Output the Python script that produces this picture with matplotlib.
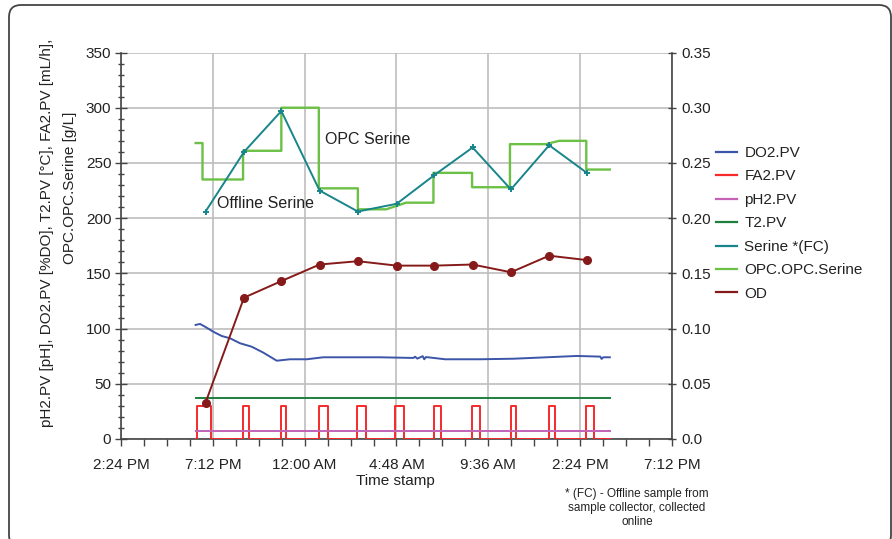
import datetime as dt
import numpy as np
import pandas as pd
import matplotlib
matplotlib.use("Agg")
import matplotlib.pyplot as plt
import matplotlib.dates as mdates
import matplotlib.ticker as mticker
from matplotlib.patches import FancyBboxPatch
from matplotlib.transforms import IdentityTransform

plt.rcParams['font.family'] = ['Liberation Sans', 'DejaVu Sans']

W, H = 892, 539
RUN_DAY = pd.Timestamp("2015-03-10")

# ---- data (time in hours after midnight of the first run day) ----
x_start_h, x_end_h = 14.4, 43.2

# offline samples from the sample collector
sample_h = [18.82, 20.83, 22.78, 24.78, 26.78, 28.81, 30.78, 32.78, 34.78, 36.78, 38.75]
serine_fc = [206, 260, 297, 225, 206, 213, 239, 264, 226, 266, 241]
od = [0.033, 0.128, 0.143, 0.158, 0.161, 0.157, 0.157, 0.158, 0.151, 0.166, 0.162]

# OPC online serine estimate
opc_h = [18.30, 18.66, 18.66, 20.78, 20.78, 22.78, 22.78, 24.74, 24.74, 26.78, 26.78,
         28.26, 29.30, 30.73, 30.73, 32.75, 32.75, 34.73, 34.73, 36.60, 37.30, 38.72,
         38.72, 39.95]
opc_serine = [268, 268, 235, 235, 261, 261, 300, 300, 227, 227, 208,
              208, 214, 214, 241, 241, 228, 228, 267, 267, 270, 270,
              244, 244]

# dissolved oxygen trace
do2_h = [18.30, 18.53, 18.79, 19.22, 19.66, 20.10, 20.62, 21.23, 21.84, 22.54, 23.23,
         24.11, 24.97, 26.20, 27.94, 29.68, 29.77, 29.89, 30.17, 30.25, 30.34, 31.34,
         33.16, 34.91, 36.65, 38.22, 39.45, 39.52, 39.61, 39.95]
do2 = [103.3, 104.2, 101.7, 97.2, 93.3, 91.2, 86.7, 83.6, 78.2, 70.9, 72.2,
       72.2, 74.0, 74.0, 74.0, 73.4, 74.5, 72.8, 75.0, 72.2, 74.2, 72.2,
       72.2, 72.7, 74.0, 75.2, 74.6, 72.5, 74.0, 74.0]

# feed pump on/off events
feed_on_h = [18.38, 20.78, 22.76, 24.76, 26.75, 28.74, 30.75, 32.75, 34.76, 36.75, 38.73]
feed_off_h = [19.10, 21.10, 23.02, 25.20, 27.22, 29.18, 31.14, 33.18, 35.06, 37.10, 39.13]
feed_rate = 30.0

# temperature and pH (steady)
online_h = [18.30, 39.95]
t2 = [37.0, 37.0]
ph2 = [6.8, 6.8]

x_tick_step_h = 4.8
x_minor_step_h = 1.2
left_ticks = [0, 50, 100, 150, 200, 250, 300, 350]
right_ticks = [0.0, 0.05, 0.10, 0.15, 0.20, 0.25, 0.30, 0.35]


def to_dates(hours):
    return mdates.date2num([RUN_DAY + pd.Timedelta(hours=float(h)) for h in hours])


def clock_label(v, pos=None):
    d = mdates.num2date(v) + dt.timedelta(seconds=30)
    return d.strftime('%-I:%M %p')


# feed rate as a step series built from the on/off events
fa2_h = [online_h[0]]
fa2 = [0.0]
for on, off in zip(feed_on_h, feed_off_h):
    fa2_h += [on, on, off, off]
    fa2 += [0.0, feed_rate, feed_rate, 0.0]
fa2_h.append(online_h[-1])
fa2.append(0.0)

# ---- figure ----
fig = plt.figure(figsize=(W / 100, H / 100), dpi=100)
fig.patch.set_facecolor('white')


def fx(px):
    return px / W


def fy(py):
    return 1 - py / H


left, right, top, bottom = 121, 672, 52.5, 439
ax = fig.add_axes([fx(left), fy(bottom), fx(right) - fx(left), fy(top) - fy(bottom)])
ax2 = ax.twinx()

lw = 1.4
c_do2 = '#3b55a8'
c_fa2 = '#f52a2a'
c_ph2 = '#c463b5'
c_t2 = '#1c7f3c'
c_ser = '#17858a'
c_opc = '#6cc046'
c_od = '#861a1a'

l_do2, = ax.plot(to_dates(do2_h), do2, color=c_do2, lw=lw, label='DO2.PV', zorder=3)
l_fa2, = ax.plot(to_dates(fa2_h), fa2, color=c_fa2, lw=lw, label='FA2.PV', zorder=3)
l_ph2, = ax.plot(to_dates(online_h), ph2, color=c_ph2, lw=lw, label='pH2.PV', zorder=3)
l_t2, = ax.plot(to_dates(online_h), t2, color=c_t2, lw=lw, label='T2.PV', zorder=3)
l_opc, = ax.plot(to_dates(opc_h), opc_serine, color=c_opc, lw=lw + 0.3, label='OPC.OPC.Serine', zorder=3)
l_ser, = ax.plot(to_dates(sample_h), serine_fc, color=c_ser, lw=lw, marker='+', ms=5,
                 mew=1.4, label='Serine *(FC)', zorder=4)
l_od, = ax2.plot(to_dates(sample_h), od, color=c_od, lw=lw, marker='o', ms=5.5,
                 label='OD', zorder=4)

# axes limits and ticks
ax.set_xlim(to_dates([x_start_h, x_end_h]))
ax.set_ylim(left_ticks[0], left_ticks[-1])
ax2.set_ylim(right_ticks[0], right_ticks[-1])

major_h = np.arange(x_start_h, x_end_h + 0.01, x_tick_step_h)
minor_h = np.arange(x_start_h, x_end_h + 0.01, x_minor_step_h)
ax.xaxis.set_major_locator(mticker.FixedLocator(to_dates(major_h)))
ax.xaxis.set_minor_locator(mticker.FixedLocator(to_dates(minor_h)))
ax.xaxis.set_major_formatter(mticker.FuncFormatter(clock_label))

ax.yaxis.set_major_locator(mticker.FixedLocator(left_ticks))
ax.yaxis.set_minor_locator(mticker.MultipleLocator(10))
ax2.yaxis.set_major_locator(mticker.FixedLocator(right_ticks))
ax2.yaxis.set_major_formatter(mticker.FuncFormatter(
    lambda v, p: '0.0' if abs(v) < 1e-9 else f'{v:.2f}'))

ax.grid(True, which='major', color='#bdbdbd', lw=1.2, zorder=0)
ax.set_axisbelow(True)

spine_c = '#444444'
for a in (ax, ax2):
    a.spines['top'].set_visible(False)
    for s in a.spines.values():
        s.set_color(spine_c)
        s.set_linewidth(1.2)
ax.spines['right'].set_visible(False)
ax2.spines['left'].set_visible(False)
ax2.spines['bottom'].set_visible(False)

fs = 11
ax.tick_params(axis='y', which='major', direction='inout', length=8, width=1,
               color=spine_c, labelsize=fs, pad=3, labelcolor='#222')
ax.tick_params(axis='y', which='minor', direction='inout', length=5, width=1, color=spine_c)
ax.tick_params(axis='x', which='both', direction='out', length=5, width=1,
               color=spine_c, labelsize=fs, pad=9, labelcolor='#222')
ax2.tick_params(axis='y', which='major', direction='inout', length=6, width=1,
                color=spine_c, labelsize=fs, pad=4, labelcolor='#222')

# axis titles
fig.text(fx(47), fy(233), 'pH2.PV [pH], DO2.PV [%DO], T2.PV [°C], FA2.PV [mL/h],',
         rotation=90, ha='center', va='center', fontsize=fs, color='#222')
fig.text(fx(70), fy(188), 'OPC.OPC.Serine [g/L]',
         rotation=90, ha='center', va='center', fontsize=fs, color='#222')
fig.text(fx(395), fy(481), 'Time stamp', ha='center', va='center', fontsize=fs, color='#222')

# series annotations
ax.text(to_dates([25.06])[0], 271.5, 'OPC Serine', ha='left', va='center', fontsize=11.5, color='#222')
ax.text(to_dates([19.42])[0], 213, 'Offline Serine', ha='left', va='center', fontsize=11.5, color='#222')

# footnote
fig.text(fx(637), fy(508), '* (FC) - Offline sample from\nsample collector, collected\nonline',
         ha='center', va='center', fontsize=8.5, color='#222', linespacing=1.2)

# legend
handles = [l_do2, l_fa2, l_ph2, l_t2, l_ser, l_opc, l_od]
leg_lines = [plt.Line2D([], [], color=h.get_color(), lw=1.6) for h in handles]
fig.legend(leg_lines, [h.get_label() for h in handles], loc='upper left',
           bbox_to_anchor=(fx(716), fy(146)), frameon=False, fontsize=fs,
           handlelength=1.4, handletextpad=0.45, labelspacing=0.62,
           borderpad=0, borderaxespad=0, labelcolor='#222')

# rounded outer frame
fig.patches.append(FancyBboxPatch((9, -8), 882, 542,
                                  boxstyle='round,pad=0,rounding_size=12',
                                  transform=IdentityTransform(), fill=False,
                                  ec='#444444', lw=1.3))

fig.savefig('out.png', dpi=100)
